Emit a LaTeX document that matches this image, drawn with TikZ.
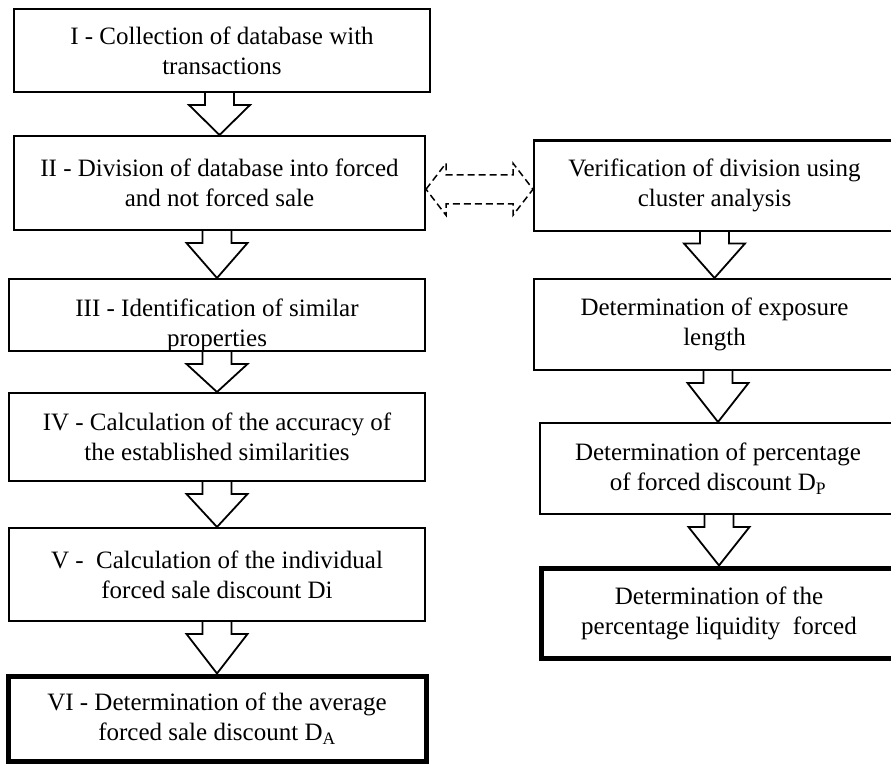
\documentclass[tikz,border=0pt]{standalone}
\usepackage{fontspec}
\setmainfont{Liberation Serif}
\usepackage{tikz}
\usetikzlibrary{calc}

\begin{document}
\begin{tikzpicture}[
	x=1pt, y=-1pt,
	box/.style={ % ordinary step
		draw, line width=2pt,
		inner sep=0pt, align=center,
		font=\fontsize{25}{30}\selectfont
	},
	endbox/.style={ % final result, heavy frame
		box, line width=5pt
	},
	txt/.style={
		inner sep=0pt, align=center,
		font=\fontsize{25}{30}\selectfont
	},
	fatarrow/.style={ % hollow block arrow
		draw, line width=1.8pt, line join=miter
	},
	duoarrow/.style={ % dashed two-way block arrow
		draw, line width=1.5pt, line join=miter,
		dash pattern=on 7pt off 4pt
	}
	]
	
	\useasboundingbox (0,0) rectangle (891,765);
	\clip (0,0) rectangle (891,765);
	
	% ================= LEFT COLUMN =================
	\node[box, minimum width=416pt, minimum height=83pt] (s1) at (222,50.5)
		{I - Collection of database with\\transactions};
	\node[box, minimum width=411pt, minimum height=94pt] (s2) at (219.5,183)
		{II - Division of database into forced\\and not forced sale};
	\node[box, minimum width=416pt, minimum height=72pt] (s3) at (217,315) {};
	\node[txt] (s3t) at ([yshift=-10pt]s3.center)
		{III - Identification of similar\\properties};
	\node[box, minimum width=416pt, minimum height=88pt] (s4) at (217,437)
		{IV - Calculation of the accuracy of\\the established similarities};
	\node[box, minimum width=416pt, minimum height=93pt] (s5) at (217,574.5)
		{V -~ Calculation of the individual\\forced sale discount Di};
	\node[endbox, minimum width=418pt, minimum height=85pt] (s6) at (217,718.5)
		{VI - Determination of the average\\forced sale discount D\textsubscript{A}};
	
	% ================= RIGHT COLUMN =================
	% (right sides run off the page)
	\node[box, minimum width=361pt, minimum height=90pt] (r1) at (714.5,185.5)
		{Verification of division using\\cluster analysis};
	\node[box, minimum width=361pt, minimum height=91pt] (r2) at (714.5,324.5)
		{Determination of exposure\\length};
	\node[box, minimum width=356pt, minimum height=91pt] (r3) at (718,468.5)
		{Determination of percentage\\of forced discount D\textsubscript{P}};
	\node[endbox, minimum width=356pt, minimum height=90pt] (r4) at (719,613)
		{Determination of the\\percentage liquidity~ forced};
	
	% block arrows between the steps
	\foreach \a/\b in {s1/s2, s2/s3, s3/s4, s4/s5, s5/s6, r1/r2, r2/r3, r3/r4} {
		\draw[fatarrow] let \p1=(\a.south), \p2=(\b.north) in
			(\x2-14.5pt,\y1) -- (\x2-14.5pt,\y1-12pt) -- (\x2-30.5pt,\y1-12pt)
			-- (\x2,\y2) -- (\x2+30.5pt,\y1-12pt) -- (\x2+14.5pt,\y1-12pt) -- (\x2+14.5pt,\y1);
	}
	
	% check of the division (dashed, both ways)
	\draw[duoarrow] let \p1=(s2.east), \p2=(r1.west), \p3=($(s2.east)!0.5!(r1.west)$) in
		(\x1,\y3-5pt) -- (\x1+20pt,\y3+21pt) -- (\x1+20pt,\y3+9.5pt)
		-- (\x2-20pt,\y3+9.5pt) -- (\x2-20pt,\y3+21pt) -- (\x2,\y3-5pt)
		-- (\x2-20pt,\y3-31pt) -- (\x2-20pt,\y3-19.5pt) -- (\x1+20pt,\y3-19.5pt)
		-- (\x1+20pt,\y3-31pt) -- cycle;
	
\end{tikzpicture}
\end{document}
